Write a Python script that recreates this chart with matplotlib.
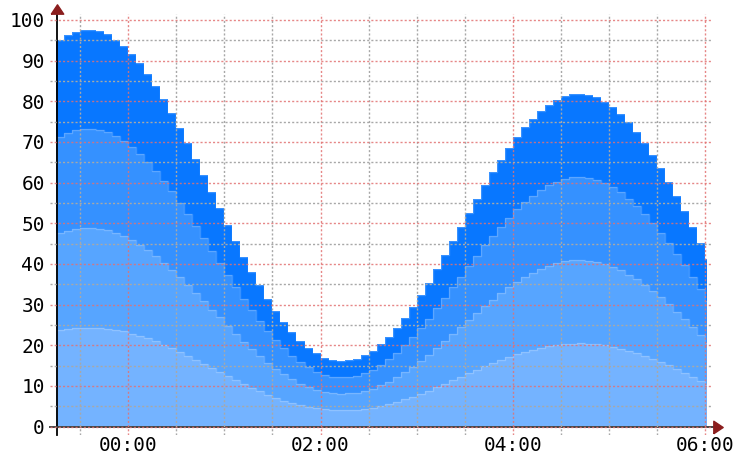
import numpy as np
import matplotlib
matplotlib.use("Agg")
import matplotlib.pyplot as plt
from matplotlib.transforms import offset_copy
from matplotlib.ticker import FixedLocator

plt.rcParams["font.family"] = ["DejaVu Sans Mono"]

# sample start times, minutes relative to 00:00 (5 minute buckets)
minutes = np.arange(-45, 365, 5)

# value of one series per bucket; the four stacked series carry the same value
layer_value = [
    23.78, 24.08, 24.28, 24.38, 24.38, 24.30, 24.13, 23.80, 23.40, 22.90,
    22.35, 21.68, 20.95, 20.15, 19.30, 18.35, 17.43, 16.43, 15.45, 14.40,
    13.43, 12.40, 11.43, 10.45, 9.53, 8.68, 7.85, 7.10, 6.43, 5.80,
    5.28, 4.85, 4.50, 4.25, 4.08, 4.05, 4.08, 4.18, 4.38, 4.68,
    5.08, 5.53, 6.05, 6.68, 7.38, 8.10, 8.85, 9.70, 10.53, 11.43,
    12.28, 13.13, 14.00, 14.85, 15.63, 16.40, 17.13, 17.80, 18.40, 18.93,
    19.43, 19.80, 20.08, 20.33, 20.43, 20.48, 20.40, 20.25, 19.98, 19.63,
    19.20, 18.70, 18.10, 17.43, 16.68, 15.90, 15.05, 14.15, 13.25, 12.28,
    11.30, 10.33,
]
series = [layer_value, layer_value, layer_value, layer_value]
series_colors = ["#74b3ff", "#57a5ff", "#3591ff", "#0877ff"]

x_ticks = [0, 120, 240, 360]
x_tick_labels = ["00:00", "02:00", "04:00", "06:00"]
y_ticks = list(range(0, 101, 10))

data_start = -44.3
data_end = 361.25

fig = plt.figure(figsize=(7.36, 4.57), dpi=100)
ax = fig.add_axes([0.0679, 0.0486, 0.9008, 0.921])

# last bucket is extended to the right edge of the drawn data
xs = np.append(minutes, data_end).astype(float)
base = np.zeros(len(xs))
for vals, col in zip(series, series_colors):
    v = np.append(vals, vals[-1])
    top = base + v
    ax.fill_between(xs, base, top, step="post", color=col, lw=0, zorder=1)
    ax.step(xs, top, where="post", color="white", alpha=0.2, lw=1.0, zorder=1.5)
    base = top

ax.set_xlim(-48.9, 365)
ax.set_ylim(-2, 101.5)

ax.xaxis.set_major_locator(FixedLocator(x_ticks))
ax.xaxis.set_minor_locator(FixedLocator([m for m in range(-30, 361, 30) if m % 120]))
ax.set_xticklabels(x_tick_labels)
ax.yaxis.set_major_locator(FixedLocator(y_ticks))
ax.yaxis.set_minor_locator(FixedLocator(list(range(5, 101, 10))))

ax.set_axisbelow(False)
ax.grid(which="major", color="#e27272", linestyle=(0, (1.5, 1.5)), lw=1.0, alpha=0.85)
ax.grid(which="minor", color="#a8a8a8", linestyle=(0, (1.5, 1.5)), lw=1.0)

ax.tick_params(which="both", length=0)
ax.tick_params(axis="x", pad=7, labelsize=14)
ax.tick_params(axis="y", pad=9, labelsize=14)

for side in ["top", "right"]:
    ax.spines[side].set_visible(False)
ax.spines["left"].set_position(("data", data_start))
ax.spines["left"].set_color("black")
ax.spines["left"].set_linewidth(1.3)
ax.spines["bottom"].set_position(("data", 0))
ax.spines["bottom"].set_color("#444444")
ax.spines["bottom"].set_linewidth(1.4)

# arrow heads at the ends of both axes
arrow_col = "#8b1e1e"
up = [(-0.5, -0.375), (0.5, -0.375), (0, 0.375), (-0.5, -0.375)]
right = [(-0.375, -0.5), (-0.375, 0.5), (0.375, 0), (-0.375, -0.5)]
t_up = offset_copy(ax.transData, fig=fig, x=0, y=3.5, units="points")
t_right = offset_copy(ax.transData, fig=fig, x=3.8, y=0, units="points")
ax.plot([data_start], [101.5], marker=up, ms=9, color=arrow_col,
        transform=t_up, clip_on=False, zorder=5)
ax.plot([365], [0], marker=right, ms=9, color=arrow_col,
        transform=t_right, clip_on=False, zorder=5)

fig.savefig("out.png", dpi=100)
